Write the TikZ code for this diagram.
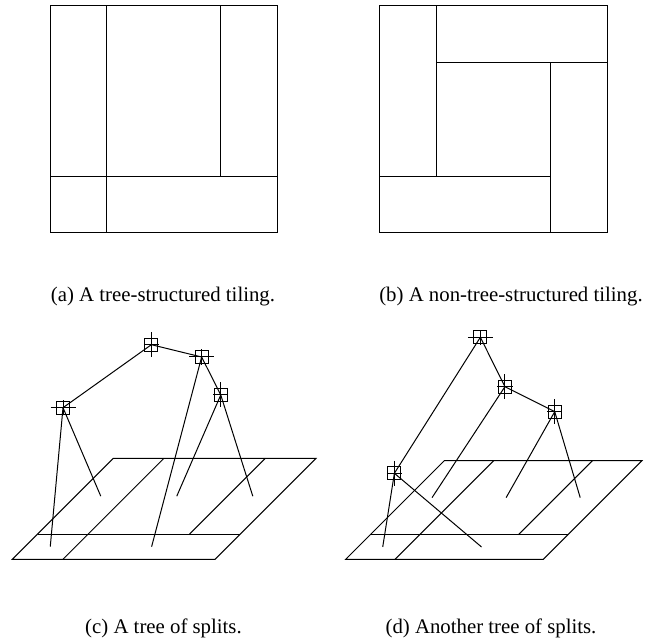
\documentclass[tikz,border=0pt]{standalone}
\usepackage{fontspec}
\setmainfont{Liberation Serif}
\usepackage{tikz}

\begin{document}
\begin{tikzpicture}[line width=0.5pt,
    split/.style={draw, rectangle, minimum size=6.5pt, inner sep=0pt},
    vsplit/.style={split, append after command={\pgfextra{\draw (\tikzlastnode.center) +(0,6.25pt) -- +(0,-6.25pt) +(-3.8pt,0) -- +(3.8pt,0);}}},
    hsplit/.style={split, append after command={\pgfextra{\draw (\tikzlastnode.center) +(-6.25pt,0) -- +(6.25pt,0) +(0,-3.8pt) -- +(0,3.8pt);}}},
    caption/.style={font=\fontsize{10.4pt}{12pt}\selectfont, inner sep=0pt}]
    \useasboundingbox (0,0) rectangle (324.5pt,321.5pt);

    % Tiling (a)
    \begin{scope}[shift={(25pt,205pt)}, x=113.65pt, y=113.65pt]
        \draw (0,0) rectangle (1,1);
        \draw (0.25,0) -- (0.25,1);
        \draw (0,0.25) -- (1,0.25);
        \draw (0.75,0.25) -- (0.75,1);
    \end{scope}
    \node[caption] (capa) at (81.5pt,173pt) {(a) A tree-structured tiling.};

    % Tiling (b)
    \begin{scope}[shift={(189.85pt,205pt)}, x=113.65pt, y=113.65pt]
        \draw (0,0) rectangle (1,1);
        \draw (0.25,0.25) -- (0.25,1);
        \draw (0.25,0.75) -- (1,0.75);
        \draw (0.75,0) -- (0.75,0.75);
        \draw (0,0.25) -- (0.75,0.25);
    \end{scope}
    \node[caption] (capb) at (255.5pt,173pt) {(b) A non-tree-structured tiling.};

    % Tree (c)
    \begin{scope}[shift={(6.15pt,41.85pt)}, x={(101.35pt,0pt)}, y={(50.5pt,50.5pt)}, z={(0pt,0.5pt)}]
        \draw (0,0,0) -- (1,0,0) -- (1,1,0) -- (0,1,0) -- cycle;
        \draw (0.25,0,0) -- (0.25,1,0);
        \draw (0,0.25,0) -- (1,0.25,0);
        \draw (0.75,0.25,0) -- (0.75,1,0);

        \coordinate (c-l1) at (0.125,0.125,0);
        \coordinate (c-l2) at (0.125,0.625,0);
        \coordinate (c-l3) at (0.625,0.125,0);
        \coordinate (c-l4) at (0.5,0.625,0);
        \coordinate (c-l5) at (0.875,0.625,0);

        \node[vsplit] (c-root) at (0.437,0.5,164.1) {};
        \node[hsplit] (c-left) at (0.001,0.5,101.1) {};
        \node[hsplit] (c-right) at (0.685,0.5,151.8) {};
        \node[vsplit] (c-top) at (0.717,0.625,101.2) {};

        \draw (c-root.center) -- (c-left.center);
        \draw (c-root.center) -- (c-right.center);
        \draw (c-left.center) -- (c-l1);
        \draw (c-left.center) -- (c-l2);
        \draw (c-right.center) -- (c-l3);
        \draw (c-right.center) -- (c-top.center);
        \draw (c-top.center) -- (c-l4);
        \draw (c-top.center) -- (c-l5);
    \end{scope}
    \node[caption] (capc) at (81.75pt,7.5pt) {(c) A tree of splits.};

    % Tree (d)
    \begin{scope}[shift={(172.85pt,41.85pt)}, x={(98.8pt,0pt)}, y={(49.3pt,49.3pt)}, z={(0pt,0.5pt)}]
        \draw (0,0,0) -- (1,0,0) -- (1,1,0) -- (0,1,0) -- cycle;
        \draw (0.25,0,0) -- (0.25,1,0);
        \draw (0,0.25,0) -- (1,0.25,0);
        \draw (0.75,0.25,0) -- (0.75,1,0);

        \coordinate (d-l1) at (0.125,0.125,0);
        \coordinate (d-l2) at (0.625,0.125,0);
        \coordinate (d-l3) at (0.125,0.625,0);
        \coordinate (d-l4) at (0.5,0.625,0);
        \coordinate (d-l5) at (0.875,0.625,0);

        \node[hsplit] (d-root) at (0.432,0.5,172.7) {};
        \node[vsplit] (d-top) at (0.494,0.625,111) {};
        \node[vsplit] (d-right) at (0.746,0.625,86) {};
        \node[vsplit] (d-bottom) at (0.184,0.125,73.7) {};

        \draw (d-root.center) -- (d-top.center);
        \draw (d-root.center) -- (d-bottom.center);
        \draw (d-top.center) -- (d-right.center);
        \draw (d-top.center) -- (d-l3);
        \draw (d-right.center) -- (d-l4);
        \draw (d-right.center) -- (d-l5);
        \draw (d-bottom.center) -- (d-l1);
        \draw (d-bottom.center) -- (d-l2);
    \end{scope}
    \node[caption] (capd) at (245.5pt,7.5pt) {(d) Another tree of splits.};
\end{tikzpicture}
\end{document}
